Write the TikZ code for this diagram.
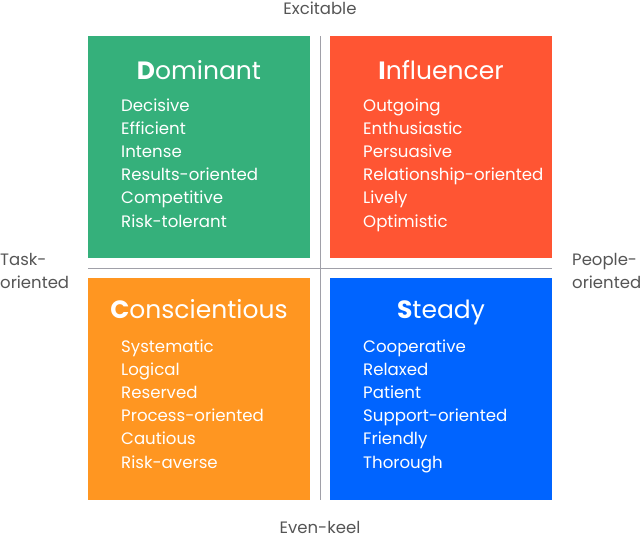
\documentclass[tikz,border=0pt]{standalone}
\usepackage{fontspec}
\setmainfont{Poppins}
\definecolor{dgreen}{HTML}{35B07B}
\definecolor{ired}{HTML}{FF5533}
\definecolor{corange}{HTML}{FF9621}
\definecolor{sblue}{HTML}{0064FF}
\definecolor{axisgray}{HTML}{555555}
\definecolor{linegray}{HTML}{A0A0A8}
\tikzset{
  quad/.style={draw=none, minimum width=222pt, minimum height=222pt, inner sep=0pt},
  qtitle/.style={text=white, inner sep=0pt, anchor=base, font=\fontsize{25}{30}\selectfont},
  qitem/.style={text=white, inner sep=0pt, anchor=base west, font=\fontsize{16.6}{21}\selectfont},
  axlabel/.style={text=axisgray, inner sep=0pt, font=\fontsize{16.5}{21}\selectfont},
  axisline/.style={draw=linegray, line width=1pt}
}
\begin{document}
\begin{tikzpicture}[x=1pt,y=-1pt]
\useasboundingbox (0,0) rectangle (640,539);
% quadrants
\node[quad, fill=dgreen]  (D) at (199,147) {};
\node[quad, fill=ired]    (I) at (441,147) {};
\node[quad, fill=corange] (C) at (199,389) {};
\node[quad, fill=sblue]   (S) at (441,389) {};
% axis lines
\coordinate (vt) at (320,36);
\coordinate (vb) at (320,500);
\coordinate (hl) at (88,268);
\coordinate (hr) at (552,268);
\draw[axisline] (vt) -- (vb);
\draw[axisline] (hl) -- (hr);
% titles
\node[qtitle] (Dt) at (199,79) {\textbf{D}ominant};
\node[qtitle] (It) at (441,79) {\textbf{I}nfluencer};
\node[qtitle] (Ct) at (199,318) {\textbf{C}onscientious};
\node[qtitle] (St) at (441,318) {\textbf{S}teady};
% items
\foreach \t [count=\i] in {Decisive,Efficient,Intense,Results-oriented,Competitive,Risk-tolerant}
  \node[qitem] (d\i) at (121,{111+23.2*(\i-1)}) {\t};
\foreach \t [count=\i] in {Outgoing,Enthusiastic,Persuasive,Relationship-oriented,Lively,Optimistic}
  \node[qitem] (i\i) at (363,{111+23.2*(\i-1)}) {\t};
\foreach \t [count=\i] in {Systematic,Logical,Reserved,Process-oriented,Cautious,Risk-averse}
  \node[qitem] (c\i) at (121,{352+23.2*(\i-1)}) {\t};
\foreach \t [count=\i] in {Cooperative,Relaxed,Patient,Support-oriented,Friendly,Thorough}
  \node[qitem] (s\i) at (363,{352+23.2*(\i-1)}) {\t};
% axis labels
\node[axlabel, anchor=base] (top) at (320,14) {Excitable};
\node[axlabel, anchor=base] (bot) at (320,533) {Even-keel};
\node[axlabel, anchor=base west] (l1) at (0,265) {Task-};
\node[axlabel, anchor=base west] (l2) at (0,288) {oriented};
\node[axlabel, anchor=base west] (r1) at (572,265) {People-};
\node[axlabel, anchor=base west] (r2) at (572,288) {oriented};
\end{tikzpicture}
\end{document}
